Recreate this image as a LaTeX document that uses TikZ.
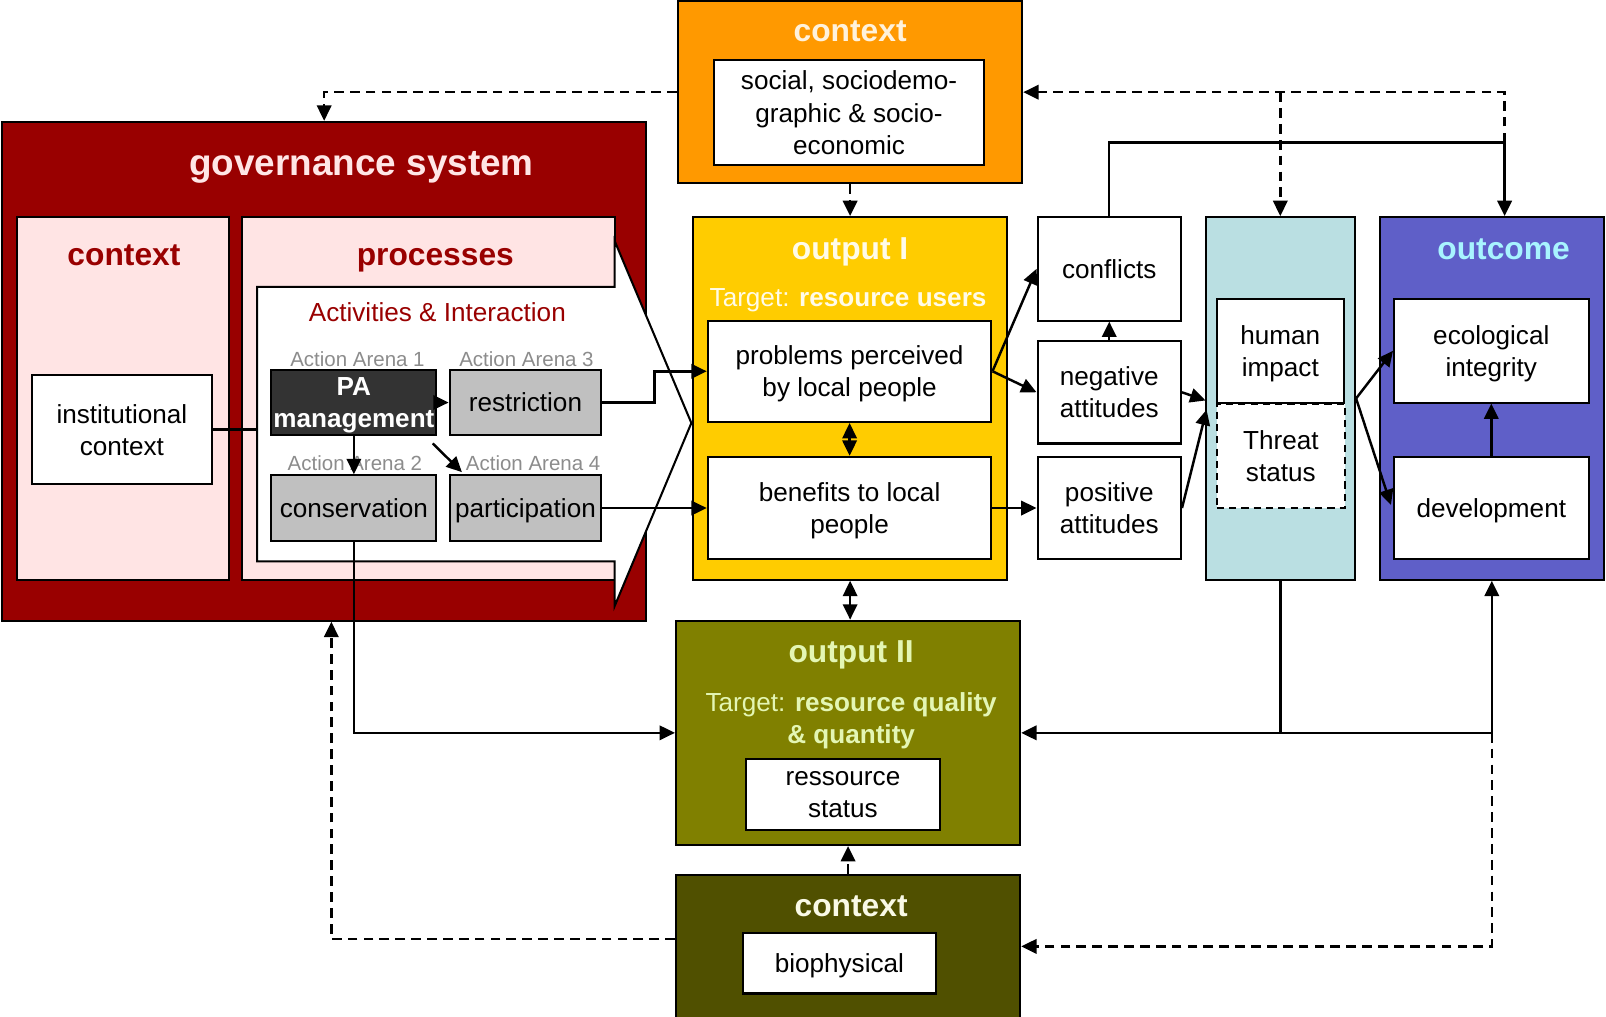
\documentclass[tikz,border=0pt]{standalone}
\usepackage{fontspec}
\setmainfont{Liberation Sans}
\usetikzlibrary{arrows.meta}

\definecolor{govred}{HTML}{990000}
\definecolor{panelpink}{HTML}{FFE4E4}
\definecolor{socorange}{HTML}{FF9900}
\definecolor{outyellow}{HTML}{FFCC00}
\definecolor{outolive}{HTML}{808000}
\definecolor{bioolive}{HTML}{505000}
\definecolor{impactcyan}{HTML}{BADFE2}
\definecolor{outcblue}{HTML}{5F5FC8}
\definecolor{pagray}{HTML}{333333}
\definecolor{arenagray}{HTML}{C0C0C0}
\definecolor{labelgray}{HTML}{8C8C8C}
\definecolor{govtitle}{HTML}{FFE6E6}
\definecolor{soctitle}{HTML}{FFF2DC}
\definecolor{out1title}{HTML}{FFFBE8}
\definecolor{out2title}{HTML}{E4F6B4}
\definecolor{biotitle}{HTML}{FAFAE6}
\definecolor{outctitle}{HTML}{A8F4FF}

\begin{document}
\begin{tikzpicture}[x=1pt,y=-1pt,
  every node/.style={inner sep=0pt},
  box/.style={draw, line width=2pt, align=center, fill=white, text depth=-3pt,
    font=\fontsize{25.5}{31.5}\selectfont},
  panel/.style={draw, line width=2pt},
  ttl/.style={font=\fontsize{31}{36}\selectfont\bfseries},
  lbl/.style={font=\fontsize{25.5}{31.5}\selectfont, align=center},
  arena/.style={font=\fontsize{20}{24}\selectfont, text=labelgray},
  conn/.style={line width=2.4pt},
  tip/.style={Triangle[length=15pt,width=14pt]},
  arr/.style={conn, -{Triangle[length=15pt,width=14pt]}},
  biarr/.style={conn, {Triangle[length=15pt,width=14pt]}-{Triangle[length=15pt,width=14pt]}},
  dsh/.style={conn, dash pattern=on 9.5pt off 6pt},
  darr/.style={dsh, -{Triangle[length=15pt,width=14pt]}},
]
\fill[white] (0,0) rectangle (1568,992);
\useasboundingbox (0,0) rectangle (1568,992);

% socio-economic context
\node[panel, fill=socorange, minimum width=336pt, minimum height=178pt] (soc) at (830,90) {};
\node[ttl, text=soctitle] (socT) at (830,31) {context};
\node[box, minimum width=264pt, minimum height=102pt] (socIn) at (829,110) {social, sociodemo-\\graphic \& socio-\\economic};

% governance system
\node[panel, fill=govred, minimum width=629pt, minimum height=487pt] (gov) at (316.5,362.5) {};
\node[font=\fontsize{36}{42}\selectfont\bfseries, text=govtitle] (govT) at (353,163) {governance system};
\node[panel, fill=panelpink, minimum width=207pt, minimum height=354pt] (gctx) at (120.5,389) {};
\node[ttl, text=govred] (gctxT) at (121,249) {context};
\node[box, minimum width=176pt, minimum height=107pt] (inst) at (119,419.5) {institutional\\context};
\node[panel, fill=panelpink, minimum width=364pt, minimum height=354pt] (proc) at (418,389) {};
\node[ttl, text=govred] (procT) at (425,254) {processes};
% big arrow holding the activities
\draw[line width=2pt, fill=white] (251,280) -- (600,280) -- (600,235) -- (675,413)
  -- (600,592) -- (600,548) -- (251,548) -- cycle;
\coordinate (actL) at (251,419.5);
\node[lbl, text=govred] (actT) at (427,304.5) {Activities \& Interaction};
\node[arena] (aa1) at (349,351) {Action Arena 1};
\node[arena] (aa3) at (514,351) {Action Arena 3};
\node[arena] (aa2) at (346.5,452.5) {Action Arena 2};
\node[arena] (aa4) at (520.5,452.5) {Action Arena 4};
\node[box, fill=pagray, text=white, font=\fontsize{25.5}{31.5}\selectfont\bfseries,
  minimum width=161pt, minimum height=64pt] (pa) at (345.5,393) {PA\\management};
\node[box, fill=arenagray, minimum width=148pt, minimum height=64pt] (res) at (513,393) {restriction};
\node[box, fill=arenagray, minimum width=161pt, minimum height=64pt] (cons) at (345.5,496) {conservation};
\node[box, fill=arenagray, minimum width=148pt, minimum height=64pt] (part) at (513,496) {participation};

% output I
\node[panel, fill=outyellow, minimum width=306pt, minimum height=354pt] (out1) at (830,389) {};
\node[ttl, text=out1title] (out1T) at (830,246) {output I};
\node[lbl, text=out1title] (out1G) at (828,293) {Target: \textbf{resource users}};
\node[box, minimum width=277pt, minimum height=99pt] (prob) at (829.5,362.5) {problems perceived\\by local people};
\node[box, minimum width=277pt, minimum height=100pt] (ben) at (829.5,496) {benefits to local\\people};

% attitudes
\node[box, minimum width=140pt, minimum height=101pt] (conf) at (1083,262.5) {conflicts};
\node[box, minimum width=140pt, minimum height=100pt] (neg) at (1083,383) {negative\\attitudes};
\node[box, minimum width=140pt, minimum height=100pt] (pos) at (1083,496) {positive\\attitudes};

% human impact column
\node[panel, fill=impactcyan, minimum width=146pt, minimum height=354pt] (col) at (1250,389) {};
\node[box, minimum width=124pt, minimum height=101pt] (hum) at (1250,342.5) {human\\impact};
\node[box, dash pattern=on 7pt off 5pt, minimum width=125pt, minimum height=102pt] (thr) at (1250.5,445) {Threat\\status};

% outcome
\node[panel, fill=outcblue, minimum width=219pt, minimum height=354pt] (outc) at (1456.5,389) {};
\node[ttl, text=outctitle] (outcT) at (1468,243) {outcome};
\node[box, minimum width=190pt, minimum height=101pt] (eco) at (1456,342.5) {ecological\\integrity};
\node[box, minimum width=190pt, minimum height=100pt] (dev) at (1456,496) {development};

% output II
\node[panel, fill=outolive, minimum width=336pt, minimum height=219pt] (out2) at (828,715.5) {};
\node[ttl, text=out2title] (out2T) at (831,639) {output II};
\node[lbl, text=out2title] (out2G) at (831,704) {Target: \textbf{resource quality}\\\textbf{\& quantity}};
\node[box, minimum width=190pt, minimum height=69pt] (rstat) at (823,775.5) {ressource\\status};

% biophysical context
\node[panel, fill=bioolive, minimum width=336pt, minimum height=150pt] (bio) at (828,929) {};
\node[ttl, text=biotitle] (bioT) at (831,885) {context};
\node[box, minimum width=189pt, minimum height=59pt] (bioIn) at (819.5,940.5) {biophysical};

% connectors inside the governance system
\draw[conn] (inst.east) -- (actL);
\draw[arr] (pa.east) -- (res.west);
\draw[arr] (pa.south) -- (cons.north);
\draw[arr] ([shift={(-4.5,7)}]pa.south east) -- ([shift={(13,-2)}]part.north west);

% governance to outputs
\draw[arr] (res.east) -- ++(51,0) |- (prob.west);
\draw[arr] (part.east) -- (ben.west);
\draw[arr] (cons.south) |- (out2.west);
\draw[biarr] (prob.south) -- (ben.north);
\draw[biarr] (out1.south) -- (out1.south |- out2.north);

% context influences
\draw[darr] (soc.south) -- (out1.north);
\draw[darr] (bio.north) -- (out2.south);
\draw[darr] (soc.west) -| (gov.north);
\coordinate (jL) at (323.5,917);
\draw[darr] (jL -| bio.west) -- (jL) -- (jL |- gov.south);

% attitudes chain
\coordinate (colA) at (1177,391);
\coordinate (colB) at (1178,400);
\draw[arr] (prob.east) -- (conf.west);
\draw[arr] (prob.east) -- (neg.west);
\draw[arr] (ben.east) -- (pos.west);
\draw[arr] (neg.north) -- (conf.south);
\draw[arr] (neg.east) -- (colA);
\draw[arr] (pos.east) -- (colB);

% impact to outcome
\draw[arr] (col.east) -- (eco.west);
\draw[arr] (col.east) -- ([shift={(-2,-3)}]dev.west);
\draw[arr] (dev.north) -- (eco.south);

% feedback along the top
\coordinate (jR) at (1469,139);
\draw[arr] (conf.north) |- (jR) -- (jR |- outc.north);
\draw[darr] (jR) |- (soc.east);
\coordinate (jT) at (col.north |- soc.east);
\draw[darr] (jT) -- (col.north);

% feedback along the bottom
\draw[arr] (col.south) |- (out2.east);
\draw[arr] (col.south) |- (outc.south |- out2.east) -- (outc.south);
\coordinate (jB) at (1456.5,924);
\draw[darr] (outc.south |- out2.east) -- (jB) -- (jB -| bio.east);
\end{tikzpicture}
\end{document}
